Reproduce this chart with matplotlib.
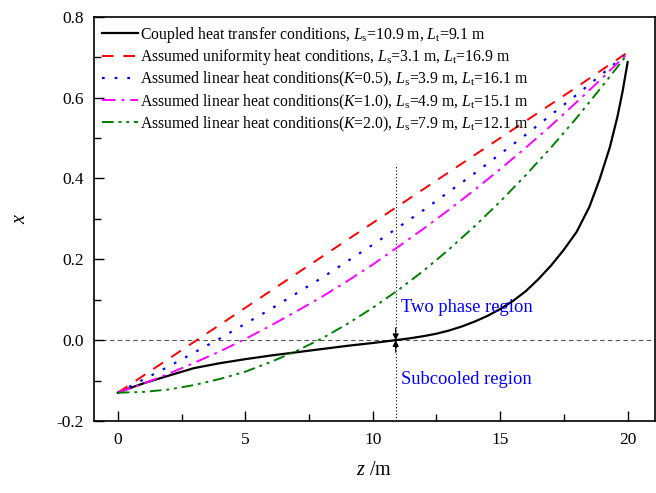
import matplotlib
matplotlib.use("Agg")
import matplotlib.pyplot as plt
from matplotlib.ticker import MultipleLocator, FormatStrFormatter

plt.rcParams['font.family'] = ['Liberation Serif', 'DejaVu Serif']
plt.rcParams['mathtext.fontset'] = 'custom'
plt.rcParams['mathtext.rm'] = 'Liberation Serif'
plt.rcParams['mathtext.it'] = 'Liberation Serif:italic'

# Coupled heat transfer conditions
z_coupled = [0, 0.5, 1, 1.67, 2.3, 3, 4, 5, 6, 7, 8, 9, 10, 10.9, 11.5, 12, 12.5, 13, 13.5,
             14, 14.5, 15, 15.5, 16, 16.5, 17, 17.5, 18, 18.5, 18.9, 19.3, 19.6, 19.8, 20]
x_coupled = [-0.13, -0.118, -0.107, -0.094, -0.082, -0.069, -0.057, -0.047, -0.038, -0.030,
             -0.022, -0.014, -0.007, 0.0, 0.005, 0.010, 0.016, 0.024, 0.034,
             0.046, 0.060, 0.077, 0.097, 0.121, 0.151, 0.185, 0.224, 0.268, 0.330, 0.398,
             0.477, 0.553, 0.615, 0.688]

# Uniform heat
z_uniform = [0, 2, 4, 6, 8, 10, 12, 14, 16, 18, 20]
x_uniform = [-0.13, -0.046, 0.038, 0.122, 0.206, 0.290, 0.374, 0.458, 0.542, 0.626, 0.712]

# Linear K=0.5
z_k05 = [0, 2, 4, 6, 8, 10, 12, 14, 16, 18, 20]
x_k05 = [-0.13, -0.065, 0.004, 0.077, 0.154, 0.236, 0.322, 0.413, 0.508, 0.607, 0.710]

# Linear K=1.0
z_k10 = list(range(0, 21))
x_k10 = [-0.130, -0.1075, -0.083, -0.056, -0.028, 0.003, 0.036, 0.071, 0.107, 0.146, 0.187,
         0.231, 0.276, 0.323, 0.372, 0.423, 0.476, 0.531, 0.589, 0.648, 0.710]

# Linear K=2.0
z_k20 = list(range(0, 21))
x_k20 = [-0.130, -0.128, -0.122, -0.111, -0.096, -0.078, -0.054, -0.027, 0.004, 0.040, 0.080,
         0.124, 0.172, 0.225, 0.282, 0.343, 0.408, 0.477, 0.550, 0.628, 0.708]

labels = [
    r"Coupled heat transfer conditions, $L_{\mathrm{s}}$=10.9 m, $L_{\mathrm{t}}$=9.1 m",
    r"Assumed uniformity heat conditions, $L_{\mathrm{s}}$=3.1 m, $L_{\mathrm{t}}$=16.9 m",
    r"Assumed linear heat conditions($K$=0.5), $L_{\mathrm{s}}$=3.9 m, $L_{\mathrm{t}}$=16.1 m",
    r"Assumed linear heat conditions($K$=1.0), $L_{\mathrm{s}}$=4.9 m, $L_{\mathrm{t}}$=15.1 m",
    r"Assumed linear heat conditions($K$=2.0), $L_{\mathrm{s}}$=7.9 m, $L_{\mathrm{t}}$=12.1 m",
]

z_boundary = 10.9
boundary_top = 0.437

fig = plt.figure(figsize=(6.56, 4.93), dpi=100)
ax = fig.add_axes([0.143, 0.146, 0.855, 0.820])

ax.axhline(0, color='#555555', lw=0.8, ls=(0, (4, 3)), zorder=1)
ax.plot([z_boundary, z_boundary], [-0.2, boundary_top], color='black', lw=0.8,
        ls=(0, (1, 2)), zorder=1)

ax.plot(z_coupled, x_coupled, color='black', lw=1.6, label=labels[0])
ax.plot(z_uniform, x_uniform, color='#FF0000', lw=1.4, dashes=(6, 5), label=labels[1])
ax.plot(z_k05, x_k05, color='#0000FF', lw=1.6, dashes=(1.2, 4.5), label=labels[2])
ax.plot(z_k10, x_k10, color='#FF00FF', lw=1.4, dashes=(7, 3, 1.5, 3), label=labels[3])
ax.plot(z_k20, x_k20, color='#008000', lw=1.4, dashes=(6, 2.5, 1.5, 2.5, 1.5, 2.5), label=labels[4])

# arrows at boundary
ax.annotate('', xy=(z_boundary, 0.0), xytext=(z_boundary, 0.03),
            arrowprops=dict(arrowstyle='-|>', color='black', lw=0.8, mutation_scale=9,
                            shrinkA=0, shrinkB=0))
ax.annotate('', xy=(z_boundary, 0.0), xytext=(z_boundary, -0.03),
            arrowprops=dict(arrowstyle='-|>', color='black', lw=0.8, mutation_scale=9,
                            shrinkA=0, shrinkB=0))

ax.text(11.1, 0.08, 'Two phase region', color='#0000FF', fontsize=13.3, va='center', ha='left')
ax.text(11.1, -0.098, 'Subcooled region', color='#0000FF', fontsize=13.3, va='center', ha='left')

ax.set_xlim(-0.94, 21.06)
ax.set_ylim(-0.2, 0.8)
ax.xaxis.set_major_locator(MultipleLocator(5))
ax.xaxis.set_minor_locator(MultipleLocator(2.5))
ax.yaxis.set_major_locator(MultipleLocator(0.2))
ax.yaxis.set_minor_locator(MultipleLocator(0.1))
ax.yaxis.set_major_formatter(FormatStrFormatter('%.1f'))
ax.tick_params(which='both', direction='in', top=False, right=False, labelsize=12.5)
ax.tick_params(which='major', length=7, width=1)
ax.tick_params(which='minor', length=5, width=1)
ax.tick_params(axis='x', pad=8)
ax.tick_params(axis='y', pad=7)
for s in ax.spines.values():
    s.set_linewidth(1.2)

ax.set_xlabel(r'$z$ /m', fontsize=14.5, labelpad=9)
ax.set_ylabel(r'$x$', fontsize=14.5, labelpad=19)

ax.legend(loc='upper left', frameon=False, fontsize=11.3, handlelength=2.3,
          handletextpad=0.15, labelspacing=0.18, borderaxespad=0.2, borderpad=0.3)

fig.savefig('out.png', dpi=100)
